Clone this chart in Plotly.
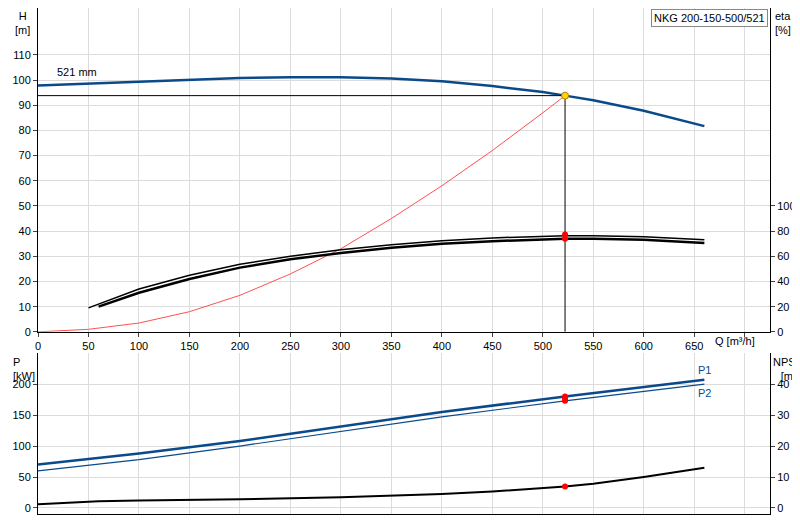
import plotly.graph_objects as go

q_h = [0, 50, 100, 150, 200, 250, 300, 350, 400, 450, 500, 522, 550, 600, 660]
h = [97.8, 98.6, 99.4, 100.2, 100.8, 101.1, 101.1, 100.6, 99.5, 97.6, 95.2, 93.8, 92.0, 87.8, 81.7]
q_e1 = [50, 100, 150, 200, 250, 300, 350, 400, 450, 500, 522, 550, 600, 660]
eta1 = [19, 34, 45, 53.6, 60, 65.2, 69.2, 72.4, 74.6, 76, 76.4, 76.4, 75.6, 73.2]
q_e2 = [60, 100, 150, 200, 250, 300, 350, 400, 450, 500, 522, 550, 600, 660]
eta2 = [20, 31, 42, 51, 57.6, 62.6, 66.8, 70, 72, 73.6, 74, 74, 73.2, 70.6]
q_sys = [0, 50, 100, 150, 200, 250, 300, 350, 400, 450, 500, 522]
h_sys = [0, 1, 3.5, 8, 14.5, 23, 33, 45, 58, 72, 87, 93.8]
q_p = [0, 100, 200, 300, 400, 522, 660]
p1 = [70, 88, 108, 132, 155, 180, 207]
p2 = [60, 78, 100, 123, 147, 173, 200]
q_n = [0, 60, 100, 200, 300, 400, 450, 500, 522, 550, 600, 660]
npsh = [1.2, 2.2, 2.4, 2.8, 3.5, 4.5, 5.3, 6.3, 6.9, 7.8, 10, 13]
q_op = 522
h_op = 93.8

BLUE = "#0b4a8a"
fig = go.Figure()
fig.add_trace(go.Scatter(x=q_h, y=h, mode="lines", line=dict(color=BLUE, width=2.5), xaxis="x", yaxis="y"))
fig.add_trace(go.Scatter(x=q_sys, y=h_sys, mode="lines", line=dict(color="#ff5050", width=1), xaxis="x", yaxis="y"))
fig.add_trace(go.Scatter(x=[0, q_op, q_op], y=[h_op, h_op, 0], mode="lines", line=dict(color="black", width=1), xaxis="x", yaxis="y"))
fig.add_trace(go.Scatter(x=[q_op], y=[h_op], mode="markers", marker=dict(color="#ffd700", size=7, line=dict(color="#b08000", width=1)), xaxis="x", yaxis="y"))
fig.add_trace(go.Scatter(x=q_e1, y=eta1, mode="lines", line=dict(color="black", width=1.5), xaxis="x", yaxis="y2"))
fig.add_trace(go.Scatter(x=q_e2, y=eta2, mode="lines", line=dict(color="black", width=2.5), xaxis="x", yaxis="y2"))
fig.add_trace(go.Scatter(x=[q_op, q_op], y=[77.4, 74], mode="markers", marker=dict(color="red", size=6), xaxis="x", yaxis="y2"))
fig.add_trace(go.Scatter(x=q_p, y=p1, mode="lines", line=dict(color=BLUE, width=2.5), xaxis="x2", yaxis="y3"))
fig.add_trace(go.Scatter(x=q_p, y=p2, mode="lines", line=dict(color=BLUE, width=1.2), xaxis="x2", yaxis="y3"))
fig.add_trace(go.Scatter(x=[q_op, q_op, q_op], y=[180, 176, 173], mode="markers", marker=dict(color="red", size=6), xaxis="x2", yaxis="y3"))
fig.add_trace(go.Scatter(x=q_n, y=npsh, mode="lines", line=dict(color="black", width=2), xaxis="x2", yaxis="y4"))
fig.add_trace(go.Scatter(x=[q_op], y=[6.9], mode="markers", marker=dict(color="red", size=6), xaxis="x2", yaxis="y4"))

grid = "#dcdcdc"
ax = dict(showgrid=True, gridcolor=grid, zeroline=False, showline=True, linecolor="black", ticks="outside", ticklen=4,
          tickfont=dict(size=11, color="black"), automargin=False)
fig.update_layout(
    width=800, height=520, showlegend=False, plot_bgcolor="white", paper_bgcolor="white",
    margin=dict(l=30, r=38, t=0, b=14), font=dict(family="Liberation Sans", size=11, color="black"),
    xaxis=dict(ax, domain=[0, 1], range=[0, 725], tickvals=list(range(0, 701, 50)), ticktext=[str(v) for v in range(0, 651, 50)] + [""], anchor="y"),
    yaxis=dict(ax, domain=[0.36, 1], range=[0, 128.6], tickvals=list(range(0, 111, 10))),
    yaxis2=dict(ax, overlaying="y", side="right", range=[0, 257.2], tickvals=list(range(0, 101, 20)), showgrid=False),
    xaxis2=dict(ax, domain=[0, 1], range=[0, 725], tickvals=list(range(0, 701, 50)), showticklabels=False, anchor="y3", ticks=""),
    yaxis3=dict(ax, domain=[0, 0.318], range=[-9.7, 250], tickvals=[0, 50, 100, 150, 200]),
    yaxis4=dict(ax, overlaying="y3", side="right", range=[-1.94, 50], tickvals=[0, 10, 20, 30, 40], showgrid=False),
)
ann = [
    dict(x=0.0, y=1.0, xref="paper", yref="paper", text="H<br>[m]", xanchor="right", yanchor="top", xshift=-6, showarrow=False, align="center"),
    dict(x=1.0, y=1.0, xref="paper", yref="paper", text="eta<br>[%]", xanchor="left", yanchor="top", xshift=3, showarrow=False, align="left"),
    dict(x=0.0, y=0.318, xref="paper", yref="paper", text="P<br>[kW]", xanchor="right", yanchor="top", xshift=-1, yshift=-1, showarrow=False, align="left"),
    dict(x=1.0, y=0.318, xref="paper", yref="paper", text="NPSH<br>[m]", xanchor="left", yanchor="top", xshift=1, yshift=-1, showarrow=False, align="center"),
    dict(x=690, y=0, xref="x", yref="y", text="Q [m³/h]", xanchor="center", yanchor="top", yshift=-1, showarrow=False),
    dict(x=17, y=100, xref="x", yref="y", text="521 mm", xanchor="left", yanchor="bottom", showarrow=False),
    dict(x=660, y=207, xref="x2", yref="y3", text="P1", xanchor="center", yanchor="bottom", yshift=2, showarrow=False, font=dict(color=BLUE)),
    dict(x=660, y=200, xref="x2", yref="y3", text="P2", xanchor="center", yanchor="top", yshift=-1, showarrow=False, font=dict(color=BLUE)),
    dict(x=1.0, y=1.0, xref="paper", yref="paper", text="NKG 200-150-500/521", xanchor="right", yanchor="top", xshift=-2, yshift=-1, showarrow=False, bordercolor="#888", borderwidth=1, bgcolor="white", borderpad=2),
]
fig.update_layout(annotations=ann)
fig.write_html("out.html")
